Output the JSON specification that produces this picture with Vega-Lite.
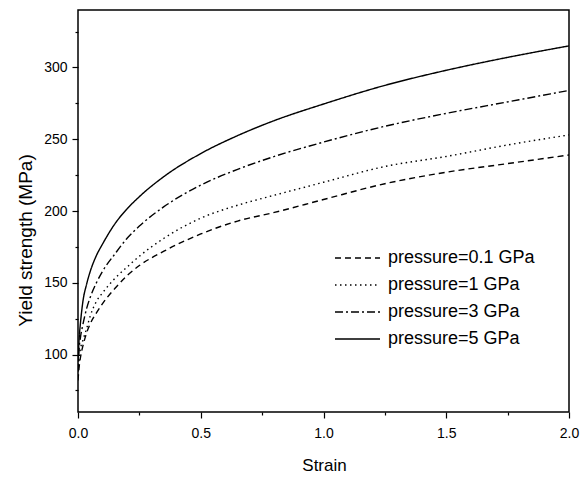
{
  "$schema": "https://vega.github.io/schema/vega-lite/v6.json",
  "width": 491,
  "height": 402,
  "autosize": "none",
  "padding": {"left": 78, "top": 10, "right": 16, "bottom": 69},
  "background": "white",
  "config": {
    "font": "Liberation Sans",
    "view": {"stroke": "black", "strokeWidth": 1.5},
    "axis": {"domain": false, "grid": false, "tickColor": "black", "labelColor": "black", "titleColor": "black", "titleFontWeight": "normal", "labelFont": "Liberation Sans", "titleFont": "Liberation Sans", "tickWidth": 1.2}
  },
  "datasets": {
    "curves": [
      {"pressure": "pressure=5 GPa", "strain": 0, "stress": 95},
      {"pressure": "pressure=5 GPa", "strain": 0.005, "stress": 112},
      {"pressure": "pressure=5 GPa", "strain": 0.01, "stress": 122},
      {"pressure": "pressure=5 GPa", "strain": 0.02, "stress": 137},
      {"pressure": "pressure=5 GPa", "strain": 0.035, "stress": 149},
      {"pressure": "pressure=5 GPa", "strain": 0.05, "stress": 158},
      {"pressure": "pressure=5 GPa", "strain": 0.075, "stress": 169},
      {"pressure": "pressure=5 GPa", "strain": 0.1, "stress": 177},
      {"pressure": "pressure=5 GPa", "strain": 0.15, "stress": 191},
      {"pressure": "pressure=5 GPa", "strain": 0.2, "stress": 201.5},
      {"pressure": "pressure=5 GPa", "strain": 0.25, "stress": 210},
      {"pressure": "pressure=5 GPa", "strain": 0.35, "stress": 224},
      {"pressure": "pressure=5 GPa", "strain": 0.5, "stress": 240},
      {"pressure": "pressure=5 GPa", "strain": 0.65, "stress": 252.5},
      {"pressure": "pressure=5 GPa", "strain": 0.8, "stress": 263},
      {"pressure": "pressure=5 GPa", "strain": 1.0, "stress": 274.5},
      {"pressure": "pressure=5 GPa", "strain": 1.25, "stress": 287.5},
      {"pressure": "pressure=5 GPa", "strain": 1.5, "stress": 298},
      {"pressure": "pressure=5 GPa", "strain": 1.75, "stress": 307},
      {"pressure": "pressure=5 GPa", "strain": 2.0, "stress": 315},
      {"pressure": "pressure=3 GPa", "strain": 0, "stress": 88},
      {"pressure": "pressure=3 GPa", "strain": 0.005, "stress": 105},
      {"pressure": "pressure=3 GPa", "strain": 0.01, "stress": 112},
      {"pressure": "pressure=3 GPa", "strain": 0.02, "stress": 121},
      {"pressure": "pressure=3 GPa", "strain": 0.035, "stress": 132},
      {"pressure": "pressure=3 GPa", "strain": 0.05, "stress": 140},
      {"pressure": "pressure=3 GPa", "strain": 0.075, "stress": 150},
      {"pressure": "pressure=3 GPa", "strain": 0.1, "stress": 158},
      {"pressure": "pressure=3 GPa", "strain": 0.15, "stress": 170},
      {"pressure": "pressure=3 GPa", "strain": 0.2, "stress": 181},
      {"pressure": "pressure=3 GPa", "strain": 0.25, "stress": 189.5},
      {"pressure": "pressure=3 GPa", "strain": 0.35, "stress": 203},
      {"pressure": "pressure=3 GPa", "strain": 0.5, "stress": 218},
      {"pressure": "pressure=3 GPa", "strain": 0.65, "stress": 229},
      {"pressure": "pressure=3 GPa", "strain": 0.8, "stress": 238},
      {"pressure": "pressure=3 GPa", "strain": 1.0, "stress": 248},
      {"pressure": "pressure=3 GPa", "strain": 1.25, "stress": 259},
      {"pressure": "pressure=3 GPa", "strain": 1.5, "stress": 268},
      {"pressure": "pressure=3 GPa", "strain": 1.75, "stress": 276},
      {"pressure": "pressure=3 GPa", "strain": 2.0, "stress": 284},
      {"pressure": "pressure=1 GPa", "strain": 0, "stress": 85},
      {"pressure": "pressure=1 GPa", "strain": 0.005, "stress": 98},
      {"pressure": "pressure=1 GPa", "strain": 0.01, "stress": 104},
      {"pressure": "pressure=1 GPa", "strain": 0.02, "stress": 110},
      {"pressure": "pressure=1 GPa", "strain": 0.035, "stress": 118},
      {"pressure": "pressure=1 GPa", "strain": 0.05, "stress": 127},
      {"pressure": "pressure=1 GPa", "strain": 0.075, "stress": 137},
      {"pressure": "pressure=1 GPa", "strain": 0.1, "stress": 143},
      {"pressure": "pressure=1 GPa", "strain": 0.15, "stress": 153},
      {"pressure": "pressure=1 GPa", "strain": 0.2, "stress": 161},
      {"pressure": "pressure=1 GPa", "strain": 0.25, "stress": 168.5},
      {"pressure": "pressure=1 GPa", "strain": 0.35, "stress": 181},
      {"pressure": "pressure=1 GPa", "strain": 0.5, "stress": 195},
      {"pressure": "pressure=1 GPa", "strain": 0.65, "stress": 204},
      {"pressure": "pressure=1 GPa", "strain": 0.8, "stress": 211},
      {"pressure": "pressure=1 GPa", "strain": 1.0, "stress": 220},
      {"pressure": "pressure=1 GPa", "strain": 1.25, "stress": 231},
      {"pressure": "pressure=1 GPa", "strain": 1.5, "stress": 238},
      {"pressure": "pressure=1 GPa", "strain": 1.75, "stress": 246},
      {"pressure": "pressure=1 GPa", "strain": 2.0, "stress": 253},
      {"pressure": "pressure=0.1 GPa", "strain": 0, "stress": 82},
      {"pressure": "pressure=0.1 GPa", "strain": 0.005, "stress": 92},
      {"pressure": "pressure=0.1 GPa", "strain": 0.01, "stress": 98},
      {"pressure": "pressure=0.1 GPa", "strain": 0.02, "stress": 106},
      {"pressure": "pressure=0.1 GPa", "strain": 0.035, "stress": 115},
      {"pressure": "pressure=0.1 GPa", "strain": 0.05, "stress": 121.5},
      {"pressure": "pressure=0.1 GPa", "strain": 0.075, "stress": 129},
      {"pressure": "pressure=0.1 GPa", "strain": 0.1, "stress": 135.5},
      {"pressure": "pressure=0.1 GPa", "strain": 0.15, "stress": 146},
      {"pressure": "pressure=0.1 GPa", "strain": 0.2, "stress": 155},
      {"pressure": "pressure=0.1 GPa", "strain": 0.25, "stress": 162},
      {"pressure": "pressure=0.1 GPa", "strain": 0.35, "stress": 172},
      {"pressure": "pressure=0.1 GPa", "strain": 0.5, "stress": 184},
      {"pressure": "pressure=0.1 GPa", "strain": 0.65, "stress": 193},
      {"pressure": "pressure=0.1 GPa", "strain": 0.8, "stress": 199},
      {"pressure": "pressure=0.1 GPa", "strain": 1.0, "stress": 208},
      {"pressure": "pressure=0.1 GPa", "strain": 1.25, "stress": 219},
      {"pressure": "pressure=0.1 GPa", "strain": 1.5, "stress": 227},
      {"pressure": "pressure=0.1 GPa", "strain": 1.75, "stress": 233},
      {"pressure": "pressure=0.1 GPa", "strain": 2.0, "stress": 239}
    ]
  },
  "data": {"name": "curves"},
  "mark": {"type": "line", "color": "black", "strokeWidth": 1.4, "interpolate": "monotone", "clip": true},
  "encoding": {
    "x": {
      "field": "strain", "type": "quantitative",
      "scale": {"domain": [0, 2], "nice": false, "zero": false},
      "axis": {
        "values": [0, 0.25, 0.5, 0.75, 1.0, 1.25, 1.5, 1.75, 2.0],
        "labelExpr": "(datum.value * 2) % 1 === 0 ? format(datum.value, '.1f') : ''",
        "tickSize": {"condition": {"test": "(datum.value * 2) % 1 !== 0", "value": 3}, "value": 6},
        "labelFontSize": 14,
        "labelPadding": 8,
        "labelFlush": false,
        "title": "Strain",
        "titleFontSize": 17,
        "titleBaseline": "middle",
        "titleX": 246,
        "titleY": 53
      }
    },
    "y": {
      "field": "stress", "type": "quantitative",
      "scale": {"domain": [60, 340], "nice": false, "zero": false},
      "axis": {
        "values": [75, 100, 125, 150, 175, 200, 225, 250, 275, 300, 325],
        "labelExpr": "datum.value % 50 === 0 ? format(datum.value, 'd') : ''",
        "tickSize": {"condition": {"test": "datum.value % 50 !== 0", "value": 3}, "value": 6},
        "labelFontSize": 14,
        "labelPadding": 5,
        "title": "Yield strength (MPa)",
        "titleFontSize": 19,
        "titleBaseline": "middle",
        "titleX": -53,
        "titleY": 230
      }
    },
    "strokeDash": {
      "field": "pressure", "type": "nominal",
      "scale": {
        "domain": ["pressure=0.1 GPa", "pressure=1 GPa", "pressure=3 GPa", "pressure=5 GPa"],
        "range": [[6, 4], [1.5, 3.5], [8, 3, 2, 3], [1, 0]]
      },
      "legend": {
        "title": null,
        "orient": "none",
        "legendX": 256,
        "legendY": 238,
        "padding": 0,
        "symbolType": "stroke",
        "symbolSize": 2025,
        "symbolStrokeColor": "black",
        "symbolStrokeWidth": 1.3,
        "labelFontSize": 18,
        "labelColor": "black",
        "labelOffset": 7,
        "rowPadding": 8,
        "encode": {
          "symbols": {"update": {"y": {"value": 10}}},
          "labels": {"update": {"y": {"value": 10}}}
        }
      }
    }
  }
}
